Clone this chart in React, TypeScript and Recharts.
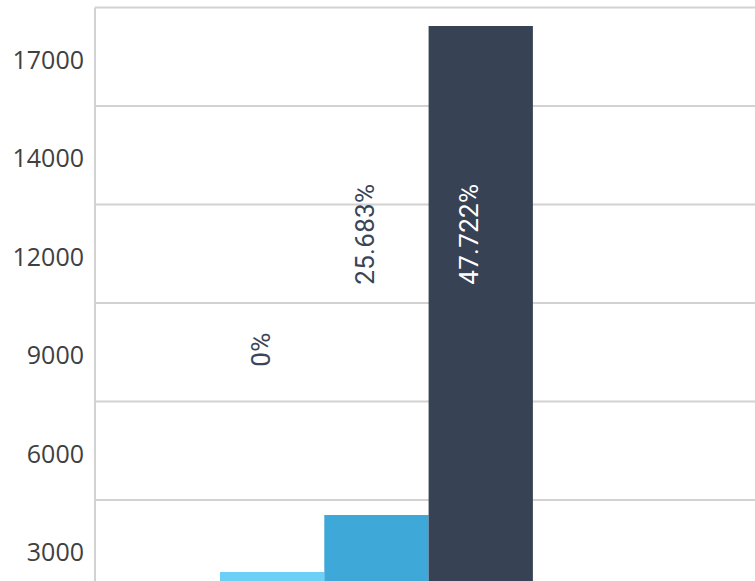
import React from 'react';
import { BarChart, Bar, XAxis, YAxis, CartesianGrid, LabelList } from 'recharts';

const categories = ['Total'];
const seriesKeys = ['light', 'mid', 'dark'];
const seriesValues = [2215, 3882, 18180];
const seriesLabels = ['0%', '25.683%', '47.722%'];
const yTickValues = [2880, 5760, 8640, 11520, 14400, 17280];
const yTickLabels = ['3000', '6000', '9000', '12000', '14000', '17000'];
const gridValues = [4320, 7200, 10080, 12960, 15840, 18720];
const yMax = 18720;

const seriesColors = ['#6BCFF6', '#3EA8D8', '#374254'];
const labelColors = ['#3A4557', '#3A4557', '#FFFFFF'];
const labelLift = [281, 363, 363];

const data = categories.map((c) => {
  const row: Record<string, string | number> = { category: c };
  seriesKeys.forEach((k, i) => {
    row[k] = seriesValues[i];
  });
  return row;
});

const makeLabel = (i: number) => (props: any) => {
  const vb = props.viewBox && props.viewBox.width !== undefined ? props.viewBox : props;
  const x = Number(vb.x);
  const y = Number(vb.y);
  const w = Number(vb.width);
  const h = Number(vb.height);
  const cx = x + w / 2 - 2.5;
  const base = y + h;
  const ty = base - labelLift[i];
  return (
    <text
      x={cx}
      y={ty}
      transform={`rotate(-90 ${cx} ${ty})`}
      textAnchor="start"
      fill={labelColors[i]}
      fontFamily="Roboto, sans-serif"
      fontSize={26}
      letterSpacing={0.3}
    >
      {seriesLabels[i]}
    </text>
  );
};

export default function App() {
  return (
    <div style={{ position: 'absolute', left: 0, top: 0, width: 755, height: 581, overflow: 'hidden', background: '#fff' }}>
      <BarChart
        width={755}
        height={660}
        data={data}
        margin={{ top: 7.5, right: 0, bottom: 12.25, left: 0 }}
        barGap={0}
        barSize={104.3}
      >
        <CartesianGrid vertical={false} horizontalValues={gridValues} stroke="#d2d2d2" strokeWidth={2} />
        <XAxis dataKey="category" hide padding={{ left: 0, right: 97 }} />
        <YAxis
          type="number"
          domain={[0, yMax]}
          ticks={yTickValues}
          interval={0}
          width={95}
          tickLine={false}
          tickSize={0}
          tickMargin={11}
          axisLine={{ stroke: '#d2d2d2', strokeWidth: 2 }}
          tickFormatter={(v: number, idx: number) => yTickLabels[idx] ?? String(v)}
          tick={{ fill: '#404040', fontFamily: 'Open Sans, sans-serif', fontSize: 25, fontWeight: 400, dy: 3 }}
        />
        {seriesKeys.map((k, i) => (
          <Bar key={k} dataKey={k} fill={seriesColors[i]} isAnimationActive={false}>
            <LabelList dataKey={k} content={makeLabel(i)} />
          </Bar>
        ))}
      </BarChart>
    </div>
  );
}
